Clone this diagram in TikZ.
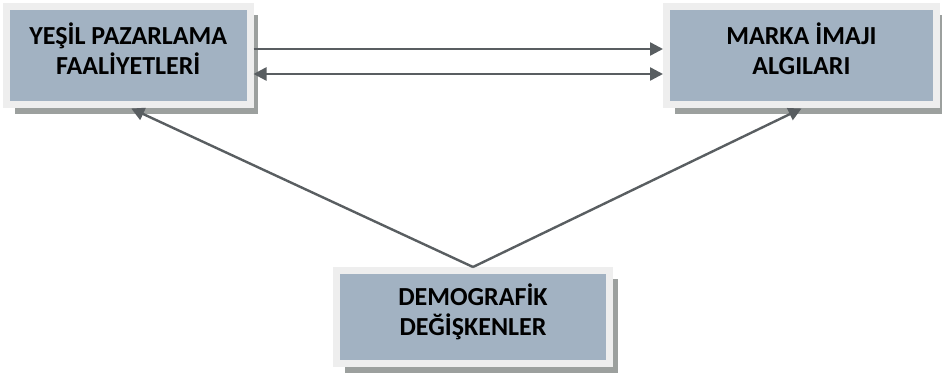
\documentclass[tikz,border=0pt]{standalone}
\usepackage{fontspec}
\setmainfont{Carlito}
\usetikzlibrary{arrows.meta,shadows,positioning,calc}

\definecolor{boxfill}{RGB}{162,178,194}
\definecolor{boxframe}{RGB}{238,238,238}
\definecolor{boxshadow}{RGB}{156,160,158}
\definecolor{arrowgray}{RGB}{89,94,97}

\tikzset{
    factor/.style={draw=boxframe, line width=7pt, fill=boxfill, align=center,
        font=\bfseries\fontsize{26}{30}\selectfont, inner sep=0pt, text depth=14pt,
        drop shadow={shadow xshift=8pt, shadow yshift=-9pt, fill=boxshadow, opacity=1}},
    link/.style={draw=arrowgray, line width=2.4pt, -{Triangle[length=13pt,width=13pt]}},
    twoway/.style={link, {Triangle[length=13pt,width=13pt]}-{Triangle[length=13pt,width=13pt]}}
}

\begin{document}
\begin{tikzpicture}[x=1pt,y=-1pt]
    \useasboundingbox (0,0) rectangle (942,379);
    \node[factor, minimum width=243.5pt, minimum height=98.5pt] (YP) at (128.25,55.75) {YEŞİL PAZARLAMA\\FAALİYETLERİ};
    \node[factor, minimum width=270pt, minimum height=98.5pt] (MI) at (801.5,55.75) {MARKA İMAJI\\ALGILARI};
    \node[factor, minimum width=273pt, minimum height=93pt] (DD) at (473,317) {DEMOGRAFİK\\DEĞİŞKENLER};
    \draw[link] ([yshift=6.75pt]YP.east) -- ([yshift=6.75pt]MI.west);
    \draw[twoway] ([yshift=-18.25pt]YP.east) -- ([yshift=-18.25pt]MI.west);
    \draw[link] (DD.north) -- ([xshift=3pt]YP.south);
    \draw[link] (DD.north) -- (MI.south);
\end{tikzpicture}
\end{document}
